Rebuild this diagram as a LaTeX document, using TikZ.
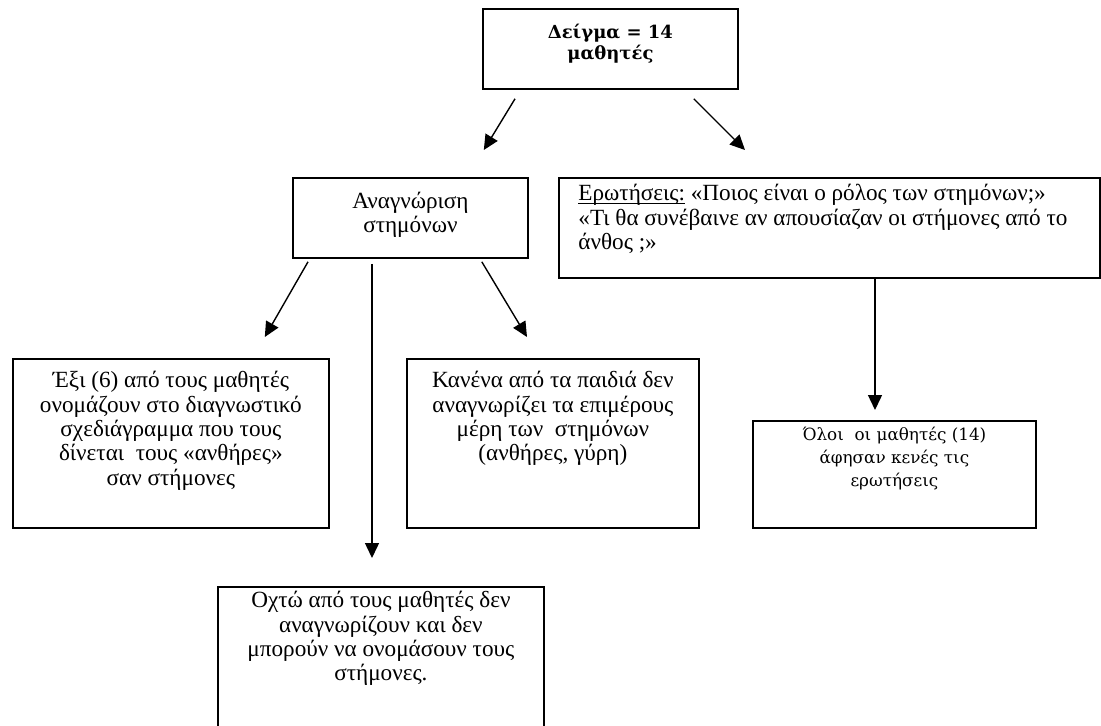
\documentclass[tikz,border=0pt]{standalone}
\usepackage{fontspec}
\setmainfont{Liberation Serif}
\newfontfamily\geo{DejaVu Serif}
\usetikzlibrary{arrows.meta,calc}
\newcommand{\myul}[1]{{\setbox0\hbox{#1}\rlap{\raisebox{-1.6pt}{\rule{\wd0}{0.55pt}}}\box0}}
\begin{document}
\begin{tikzpicture}[x=0.5pt,y=-0.5pt,
  box/.style={draw, line width=0.9pt, inner sep=0pt, anchor=north west},
  txt/.style={align=center, font=\fontsize{11.6}{12.2}\selectfont, inner sep=0pt},
  conn/.style={line width=0.7pt, -{Triangle[length=7.5pt,width=7pt]}},
]
\useasboundingbox (0,0) rectangle (1101,725);

% boxes
\node[box, minimum width=127.5pt, minimum height=40pt] (top) at (482,8) {};
\node[box, minimum width=117.5pt, minimum height=40pt] (anag) at (292,177) {};
\node[box, minimum width=270.5pt, minimum height=50pt] (erot) at (558,177) {};
\node[box, minimum width=158pt, minimum height=84.5pt] (exi) at (12,358) {};
\node[box, minimum width=146pt, minimum height=84.5pt] (kan) at (406,358) {};
\node[box, minimum width=141.5pt, minimum height=53.5pt] (oloi) at (752,420) {};
\node[box, minimum width=163pt, minimum height=77pt] (oxto) at (217,586) {};

% texts
\node[txt, font=\geo\bfseries\fontsize{9}{10.5}\selectfont] (toptxt) at ($(top.center)+(0,-5)$) {Δείγμα = 14\\μαθητές};
\node[txt] (anagtxt) at ($(anag.center)+(0,-3)$) {Αναγνώριση\\στημόνων};
\node[txt, align=left, anchor=north west] (erottxt) at ($(erot.north west)+(20,7)$)
  {\myul{Ερωτήσεις:} «Ποιος είναι ο ρόλος των στημόνων;»\\
   «Τι θα συνέβαινε αν απουσίαζαν οι στήμονες από το\\
   άνθος ;»};
\node[txt, anchor=north] (exitxt) at ($(exi.north)+(0,13)$)
  {Έξι (6) από τους μαθητές\\ονομάζουν στο διαγνωστικό\\σχεδιάγραμμα που τους\\δίνεται~ τους «ανθήρες»\\σαν στήμονες};
\node[txt, anchor=north] (kantxt) at ($(kan.north)+(0,13)$)
  {Κανένα από τα παιδιά δεν\\αναγνωρίζει τα επιμέρους\\μέρη των~ στημόνων\\(ανθήρες, γύρη)};
\node[txt, anchor=north, font=\geo\fontsize{8.4}{11.5}\selectfont] (oloitxt) at ($(oloi.north)+(0,7)$)
  {Όλοι~ οι μαθητές (14)\\άφησαν κενές τις\\ερωτήσεις};
\node[txt, anchor=north] (oxtotxt) at ($(oxto.north)+(0,5)$)
  {Οχτώ από τους μαθητές δεν\\αναγνωρίζουν και δεν\\μπορούν να ονομάσουν τους\\στήμονες.};

% connectors
\draw[conn] ($(top.south west)+(33,9)$) -- ($(anag.north east)+(-45,-27)$);
\draw[conn] ($(top.south east)+(-45,9)$) -- ($(erot.north west)+(187,-27)$);
\draw[conn] ($(anag.south west)+(16,3)$) -- ($(exi.north east)+(-65,-21)$);
\draw[conn] ($(anag.south east)+(-47,3)$) -- ($(kan.north west)+(121,-21)$);
\draw[conn] ($(anag.south west)+(80,5)$) -- ($(oxto.north west)+(155,-28)$);
\draw[conn] ($(erot.south west)+(317,0)$) -- ($(oloi.north west)+(123,-10)$);
\end{tikzpicture}
\end{document}
